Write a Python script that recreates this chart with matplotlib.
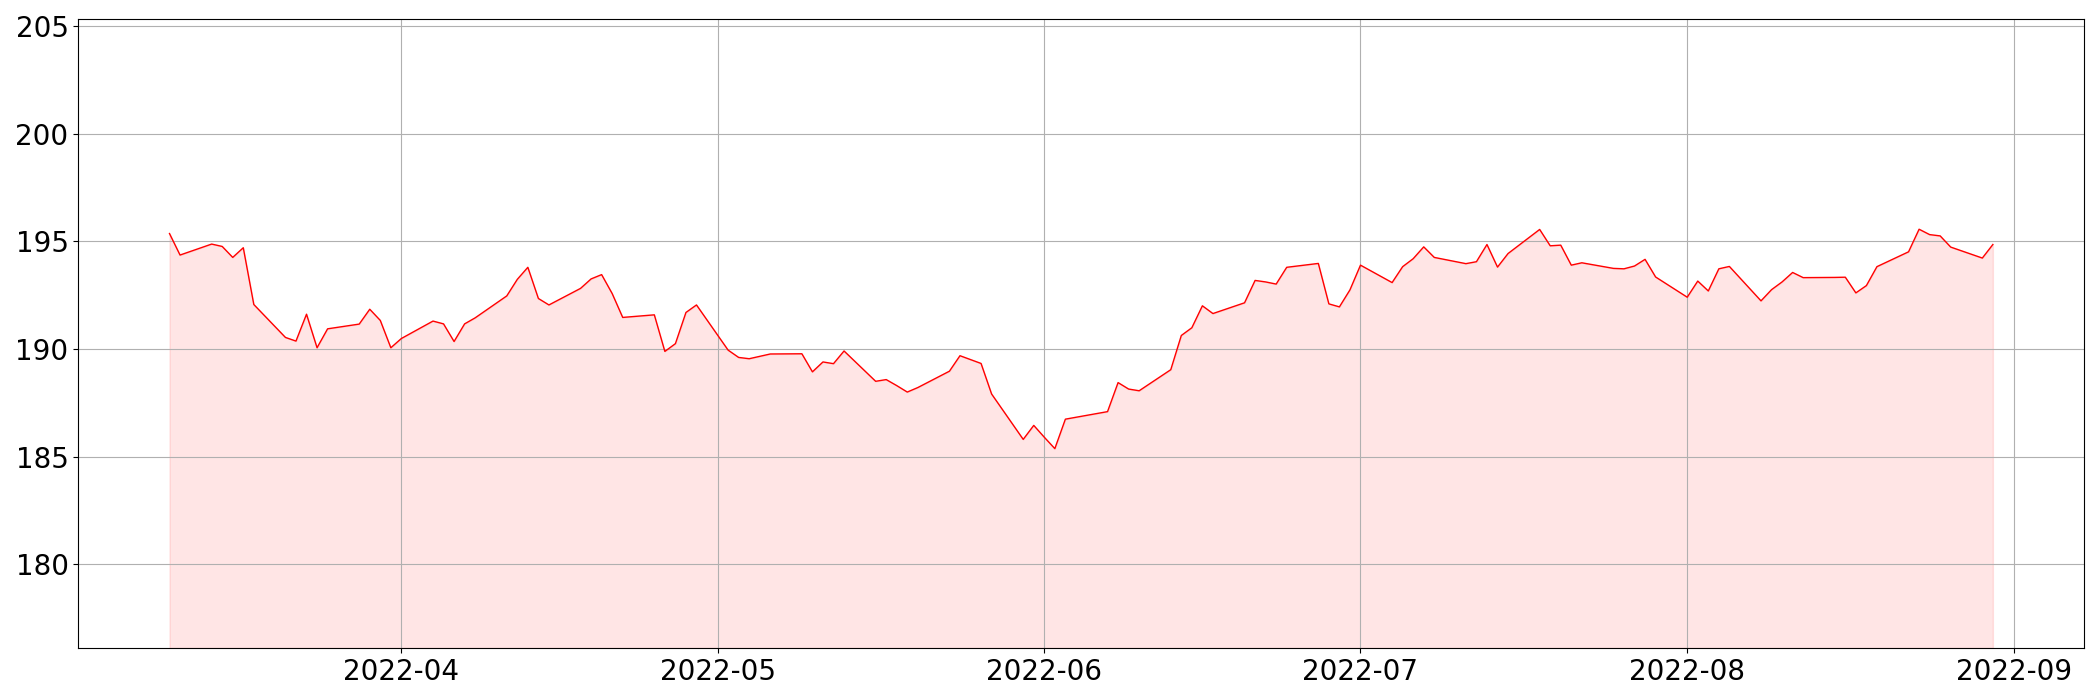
import matplotlib
matplotlib.use("Agg")
import matplotlib.pyplot as plt
import pandas as pd

# daily closes
dates = [
    "2022-03-10", "2022-03-11", "2022-03-14", "2022-03-15", "2022-03-16", "2022-03-17", "2022-03-18",
    "2022-03-21", "2022-03-22", "2022-03-23", "2022-03-24", "2022-03-25",
    "2022-03-28", "2022-03-29", "2022-03-30", "2022-03-31", "2022-04-01",
    "2022-04-04", "2022-04-05", "2022-04-06", "2022-04-07", "2022-04-08",
    "2022-04-11", "2022-04-12", "2022-04-13", "2022-04-14", "2022-04-15",
    "2022-04-18", "2022-04-19", "2022-04-20", "2022-04-21", "2022-04-22",
    "2022-04-25", "2022-04-26", "2022-04-27", "2022-04-28", "2022-04-29",
    "2022-05-02", "2022-05-03", "2022-05-04", "2022-05-05", "2022-05-06",
    "2022-05-09", "2022-05-10", "2022-05-11", "2022-05-12", "2022-05-13",
    "2022-05-16", "2022-05-17", "2022-05-18", "2022-05-19", "2022-05-20",
    "2022-05-23", "2022-05-24", "2022-05-25", "2022-05-26", "2022-05-27",
    "2022-05-30", "2022-05-31", "2022-06-01", "2022-06-02", "2022-06-03",
    "2022-06-07", "2022-06-08", "2022-06-09", "2022-06-10",
    "2022-06-13", "2022-06-14", "2022-06-15", "2022-06-16", "2022-06-17",
    "2022-06-20", "2022-06-21", "2022-06-22", "2022-06-23", "2022-06-24",
    "2022-06-27", "2022-06-28", "2022-06-29", "2022-06-30", "2022-07-01",
    "2022-07-04", "2022-07-05", "2022-07-06", "2022-07-07", "2022-07-08",
    "2022-07-11", "2022-07-12", "2022-07-13", "2022-07-14", "2022-07-15",
    "2022-07-18", "2022-07-19", "2022-07-20", "2022-07-21", "2022-07-22",
    "2022-07-25", "2022-07-26", "2022-07-27", "2022-07-28", "2022-07-29",
    "2022-08-01", "2022-08-02", "2022-08-03", "2022-08-04", "2022-08-05",
    "2022-08-08", "2022-08-09", "2022-08-10", "2022-08-11", "2022-08-12",
    "2022-08-15", "2022-08-16", "2022-08-17", "2022-08-18", "2022-08-19",
    "2022-08-22", "2022-08-23", "2022-08-24", "2022-08-25", "2022-08-26",
    "2022-08-29", "2022-08-30",
]
prices = [
    195.37, 194.37, 194.88, 194.77, 194.26, 194.71, 192.07,
    190.54, 190.37, 191.62, 190.06, 190.94,
    191.16, 191.85, 191.33, 190.06, 190.49,
    191.30, 191.17, 190.35, 191.17, 191.45,
    192.47, 193.24, 193.80, 192.35, 192.05,
    192.82, 193.26, 193.46, 192.58, 191.47,
    191.59, 189.89, 190.25, 191.70, 192.05,
    189.95, 189.61, 189.55, 189.66, 189.77,
    189.78, 188.94, 189.40, 189.32, 189.91,
    188.50, 188.58, 188.30, 188.00, 188.21,
    188.97, 189.69, 189.51, 189.33, 187.91,
    185.80, 186.45, 185.90, 185.37, 186.74,
    187.09, 188.44, 188.14, 188.06,
    189.04, 190.63, 190.99, 192.01, 191.65,
    192.15, 193.19, 193.12, 193.02, 193.80,
    193.98, 192.10, 191.96, 192.75, 193.90,
    193.09, 193.83, 194.20, 194.75, 194.26,
    193.97, 194.06, 194.86, 193.81, 194.44,
    195.56, 194.80, 194.83, 193.90, 194.01,
    193.75, 193.73, 193.86, 194.17, 193.35,
    192.41, 193.16, 192.70, 193.73, 193.84,
    192.24, 192.76, 193.12, 193.56, 193.32,
    193.33, 193.34, 192.61, 192.95, 193.83,
    194.52, 195.57, 195.32, 195.26, 194.74,
    194.23, 194.86,
]

x = pd.to_datetime(dates)
low = min(prices) * 0.95
high = max(prices) * 1.05

fig, ax = plt.subplots(figsize=(21, 7), dpi=100)
ax.plot(x, prices, color="red", linewidth=1)
ax.fill_between(x, prices, low, color="red", alpha=0.1)
ax.set_ylim(low, high)
ax.tick_params(labelsize=20)
ax.grid(True)

plt.subplots_adjust(left=0.0373, right=0.9924, top=0.973, bottom=0.0743)
plt.savefig("out.png")
